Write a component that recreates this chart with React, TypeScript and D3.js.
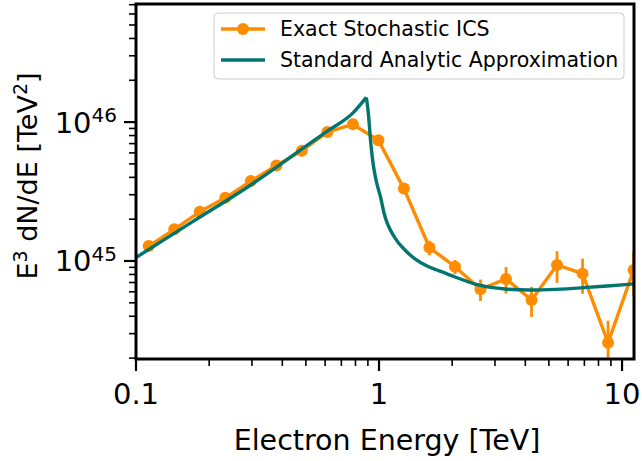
import React from "react";
import * as d3 from "d3";

// Exact Stochastic ICS (binned) — energy [TeV], E^3 dN/dE [TeV^2], error
const stochE = [0.1128, 0.1437, 0.183, 0.2331, 0.2969, 0.3781, 0.4815, 0.6132, 0.781, 0.9943, 1.266, 1.612, 2.054, 2.615, 3.331, 4.242, 5.401, 6.879, 8.76, 11.157];
const stochV = [1.28e45, 1.69e45, 2.26e45, 2.85e45, 3.76e45, 4.87e45, 6.22e45, 8.47e45, 9.63e45, 7.4e45, 3.32e45, 1.25e45, 9.1e44, 6.26e44, 7.43e44, 5.24e44, 9.36e44, 8.11e44, 2.58e44, 8.61e44];
const stochErr = [2e43, 3e43, 4e43, 5e43, 7e43, 9e43, 1.1e44, 1.4e44, 1.6e44, 1.5e44, 1.0e44, 1.5e44, 1.06e44, 1.1e44, 1.6e44, 1.28e44, 2.4e44, 2.3e44, 1.14e44, 3.0e44];

// Standard Analytic Approximation — traced curve
const analyticE = [0.1, 0.1711, 0.2954, 0.4807, 0.6127, 0.7794, 0.8867, 0.9037, 0.9226, 0.9447, 0.972, 1.0143, 1.0485, 1.1637, 1.279, 1.406, 1.576, 1.733, 2.055, 2.604, 3.3, 4.182, 5.35, 6.78, 8.68, 11.2];
const analyticV = [1.06e45, 1.92e45, 3.51e45, 6.38e45, 8.61e45, 1.16e46, 1.506e46, 1.161e46, 7.42e45, 5.07e45, 3.83e45, 2.89e45, 2.215e45, 1.464e45, 1.2e45, 1.034e45, 9.2e44, 8.61e44, 7.67e44, 6.67e44, 6.29e44, 6.18e44, 6.25e44, 6.4e44, 6.61e44, 6.84e44];

const xTickVals = [0.1, 1, 10];
const xTickLabels = ["0.1", "1", "10"];
const yTickVals = [1e45, 1e46];
const yTickExp = ["45", "46"];

const legendLabels = ["Exact Stochastic ICS", "Standard Analytic Approximation"];

const W = 642, H = 461;
const L = 136, R = 634, T = 4, B = 359;
const ORANGE = "#ff8c00";
const TEAL = "#03756f";
const FONT = "DejaVu Sans, sans-serif";

export default function App() {
  const x = d3.scaleLog().domain([0.1, 11.2]).range([L, R]);
  const y = d3.scaleLog().domain([1.97e44, 7.08e46]).range([B, T]);

  const pts = stochE.map((e, i) => ({ e, v: stochV[i], err: stochErr[i] }));
  const ana = analyticE.map((e, i) => ({ e, v: analyticV[i] }));
  const peak = d3.maxIndex(ana, (d) => d.v);

  const lineLin = d3.line<{ e: number; v: number }>().x((d) => x(d.e)).y((d) => y(d.v));
  const lineSmooth = d3
    .line<{ e: number; v: number }>()
    .x((d) => x(d.e))
    .y((d) => y(d.v))
    .curve(d3.curveMonotoneX);

  const xMinor: number[] = [];
  for (const dec of [0.1, 1, 10]) for (let k = 2; k <= 9; k++) {
    const v = dec * k;
    if (v >= 0.1 && v <= 11.2) xMinor.push(v);
  }
  const yMinor: number[] = [];
  for (const dec of [1e44, 1e45, 1e46]) for (let k = 2; k <= 9; k++) {
    const v = dec * k;
    if (v >= 1.97e44 && v <= 7.08e46) yMinor.push(v);
  }

  return (
    <svg width={W} height={H} style={{ position: "absolute", left: 0, top: 0, background: "#fff" }} fontFamily={FONT}>
      <defs>
        <clipPath id="plotclip">
          <rect x={L} y={T} width={R - L} height={B - T} />
        </clipPath>
      </defs>
      <rect x={0} y={0} width={W} height={H} fill="#fff" />

      <g clipPath="url(#plotclip)">
        {pts.map((d, i) => (
          <line key={"eb" + i} x1={x(d.e)} x2={x(d.e)} y1={y(d.v + d.err)} y2={y(Math.max(d.v - d.err, 1e40))} stroke={ORANGE} strokeWidth={2.8} />
        ))}
        <path d={lineLin(pts) || ""} fill="none" stroke={ORANGE} strokeWidth={3.4} strokeLinejoin="round" />
        {pts.map((d, i) => (
          <circle key={"m" + i} cx={x(d.e)} cy={y(d.v)} r={6} fill={ORANGE} />
        ))}
        <path d={lineSmooth(ana.slice(0, peak + 1)) || ""} fill="none" stroke={TEAL} strokeWidth={3.4} strokeLinejoin="round" />
        <path d={lineSmooth(ana.slice(peak)) || ""} fill="none" stroke={TEAL} strokeWidth={3.4} strokeLinejoin="round" />
      </g>

      {xMinor.map((v, i) => (
        <line key={"xm" + i} x1={x(v)} x2={x(v)} y1={B} y2={B + 7} stroke="#000" strokeWidth={1.6} />
      ))}
      {xTickVals.map((v, i) => (
        <g key={"xt" + i}>
          <line x1={x(v)} x2={x(v)} y1={B} y2={B + 12} stroke="#000" strokeWidth={2.2} />
          <text x={x(v)} y={404} fontSize={29} textAnchor="middle" fill="#000">{xTickLabels[i]}</text>
        </g>
      ))}

      {yMinor.map((v, i) => (
        <line key={"ym" + i} x1={L - 7} x2={L} y1={y(v)} y2={y(v)} stroke="#000" strokeWidth={1.6} />
      ))}
      {yTickVals.map((v, i) => (
        <g key={"yt" + i}>
          <line x1={L - 12} x2={L} y1={y(v)} y2={y(v)} stroke="#000" strokeWidth={2.2} />
          <text x={117} y={y(v) + 10.5} fontSize={29} textAnchor="end" fill="#000">
            10<tspan fontSize={20} dy={-10.5}>{yTickExp[i]}</tspan>
          </text>
        </g>
      ))}

      <rect x={L} y={T} width={R - L} height={B - T} fill="none" stroke="#000" strokeWidth={3} />

      <text x={387} y={450} fontSize={28.5} textAnchor="middle" fill="#000">Electron Energy [TeV]</text>
      <text transform={`translate(37,176) rotate(-90)`} fontSize={27} textAnchor="middle" fill="#000">
        E<tspan fontSize={19} dy={-10}>3</tspan><tspan dy={10}> dN/dE [TeV</tspan><tspan fontSize={19} dy={-10}>2</tspan><tspan dy={10}>]</tspan>
      </text>

      <rect x={214} y={13} width={410} height={66} rx={4} fill="#fff" fillOpacity={0.8} stroke="#cccccc" strokeWidth={1} />
      <line x1={221} x2={265} y1={29} y2={29} stroke={ORANGE} strokeWidth={3.4} />
      <circle cx={243} cy={29} r={6} fill={ORANGE} />
      <text x={280} y={36} fontSize={20.5} fill="#000">{legendLabels[0]}</text>
      <line x1={221} x2={265} y1={60} y2={60} stroke={TEAL} strokeWidth={3.4} />
      <text x={280} y={67} fontSize={20.5} fill="#000">{legendLabels[1]}</text>
    </svg>
  );
}
